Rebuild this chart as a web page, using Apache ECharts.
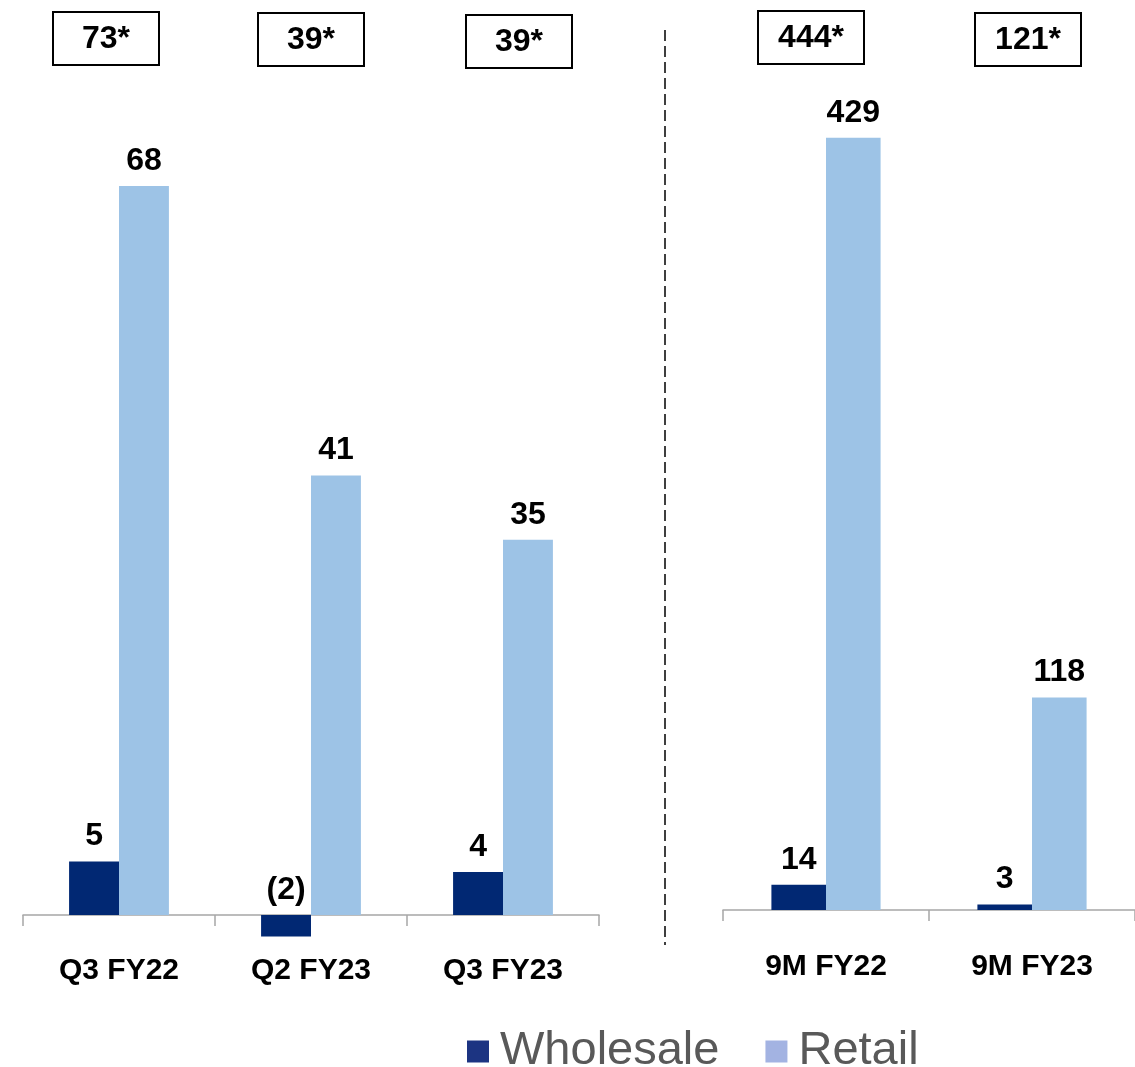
<!DOCTYPE html>
<html>
<head>
<meta charset="utf-8">
<script src="https://cdn.jsdelivr.net/npm/echarts@6/dist/echarts.min.js"></script>
<style>
  html, body { margin: 0; padding: 0; background: #fff; }
  #chart { width: 1135px; height: 1067px; }
</style>
</head>
<body>
<div id="chart"></div>
<script>
// quarter panel
var quarterCats = ['Q3 FY22', 'Q2 FY23', 'Q3 FY23'];
var quarterWholesale = [5, -2, 4];
var quarterRetail = [68, 41, 35];
// nine-month panel
var nineCats = ['9M FY22', '9M FY23'];
var nineWholesale = [14, 3];
var nineRetail = [429, 118];
// boxed totals above each group
var totals = ['73*', '39*', '39*', '444*', '121*'];

var FONT = '"Liberation Sans", Arial, sans-serif';
var navy = '#012873';
var light = '#9DC3E6';

// box positions (center x, center y)
var boxPos = [[106, 38], [311, 39], [519, 41], [811, 37], [1028, 39]];

var chart = echarts.init(document.getElementById('chart'));

function fmt(p) {
	return p.value < 0 ? '(' + Math.abs(p.value) + ')' : p.value;
}

var barLabel = {
	show: true,
	position: 'top',
	distance: 9,
	formatter: fmt,
	color: '#000',
	fontFamily: FONT,
	fontWeight: 'bold',
	fontSize: 32
};

function xAxisOf(grid, cats, margin) {
	return {
		type: 'category',
		gridIndex: grid,
		data: cats,
		axisLine: { onZero: true, lineStyle: { color: '#A6A6A6', width: 1.5 } },
		axisTick: { show: true, length: 11, lineStyle: { color: '#A6A6A6', width: 1.5 } },
		axisLabel: {
			margin: margin,
			color: '#000',
			fontFamily: FONT,
			fontWeight: 'bold',
			fontSize: 30
		}
	};
}

var graphics = [{
	type: 'line',
	shape: { x1: 665, y1: 30, x2: 665, y2: 945 },
	style: { stroke: '#000', lineWidth: 1.5, lineDash: [11, 5] }
}];
boxPos.forEach(function (p, i) {
	graphics.push({
		type: 'rect',
		shape: { x: p[0] - 53, y: p[1] - 26, width: 106, height: 53 },
		style: { fill: '#fff', stroke: '#000', lineWidth: 2 }
	});
	graphics.push({
		type: 'text',
		x: p[0],
		y: p[1] + 1,
		style: {
			text: totals[i],
			fill: '#000',
			font: 'bold 32px ' + FONT,
			textAlign: 'center',
			textVerticalAlign: 'middle'
		}
	});
});

var option = {
	backgroundColor: '#fff',
	animation: false,
	legend: {
		left: 462,
		top: 1023,
		icon: 'rect',
		itemWidth: 22,
		itemHeight: 22,
		itemGap: 46,
		textStyle: {
			color: '#595959',
			fontFamily: FONT,
			fontSize: 47,
			padding: [0, 0, 0, 6]
		},
		data: [
			{ name: 'Wholesale', itemStyle: { color: '#1C3482' } },
			{ name: 'Retail', itemStyle: { color: '#A3B3E2' } }
		]
	},
	grid: [
		{ left: 23, width: 576, top: 57.4, bottom: 98.4 },
		{ left: 723, width: 414, top: 46, bottom: 157 }
	],
	xAxis: [
		xAxisOf(0, quarterCats, -13),
		xAxisOf(1, nineCats, 42)
	],
	yAxis: [
		{ gridIndex: 0, type: 'value', min: -5, max: 80, show: false, splitLine: { show: false } },
		{ gridIndex: 1, type: 'value', min: 0, max: 480, show: false, splitLine: { show: false } }
	],
	series: [
		{
			name: 'Wholesale', type: 'bar', xAxisIndex: 0, yAxisIndex: 0,
			data: quarterWholesale, barWidth: '26%', barGap: '0%',
			itemStyle: { color: navy }, label: barLabel
		},
		{
			name: 'Retail', type: 'bar', xAxisIndex: 0, yAxisIndex: 0,
			data: quarterRetail, barWidth: '26%', barGap: '0%',
			itemStyle: { color: light }, label: barLabel
		},
		{
			name: 'Wholesale', type: 'bar', xAxisIndex: 1, yAxisIndex: 1,
			data: nineWholesale, barWidth: '26.5%', barGap: '0%',
			itemStyle: { color: navy }, label: barLabel
		},
		{
			name: 'Retail', type: 'bar', xAxisIndex: 1, yAxisIndex: 1,
			data: nineRetail, barWidth: '26.5%', barGap: '0%',
			itemStyle: { color: light }, label: barLabel
		}
	],
	graphic: graphics
};

chart.setOption(option);
</script>
</body>
</html>
